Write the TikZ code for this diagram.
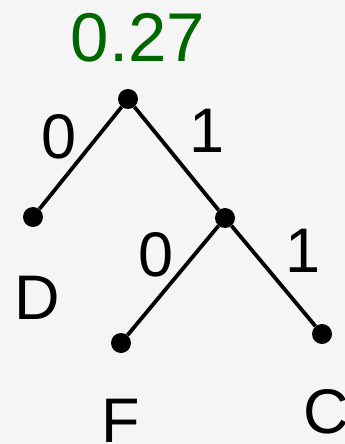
\documentclass[tikz,border=0pt]{standalone}
\usepackage{fontspec}
\setmainfont{Liberation Sans}
\definecolor{bg}{RGB}{245,245,245}
\definecolor{tgreen}{RGB}{0,102,0}
\begin{document}
\begin{tikzpicture}[x=1pt,y=-1pt,
  dot/.style={circle,fill=black,inner sep=0pt,minimum size=20pt},
  edge/.style={line width=3.8pt},
  lbl/.style={inner sep=0pt,anchor=base,font=\fontsize{63}{63}\selectfont},
  prob/.style={inner sep=0pt,anchor=base,text=tgreen,font=\fontsize{69}{69}\selectfont}]
\fill[bg] (0,0) rectangle (345,444);
\useasboundingbox (0,0) rectangle (345,444);
\node[dot] (r) at (128,99) {};
\node[dot] (d) at (33,217) {};
\node[dot] (i) at (225,218) {};
\node[dot] (f) at (121,343) {};
\node[dot] (c) at (322,334) {};
\draw[edge] (r) -- (d);
\draw[edge] (r) -- (i);
\draw[edge] (i) -- (f);
\draw[edge] (i) -- (c);
\node[prob] (p) at (138,62) {0.27};
\node[lbl] (l0a) at (59,158) {0};
\node[lbl] (l1a) at (207,152) {1};
\node[lbl] (l0b) at (156,276) {0};
\node[lbl] (l1b) at (303,272) {1};
\node[lbl] (nd) at (37,319) {D};
\node[lbl] (nf) at (121,442) {F};
\node[lbl] (nc) at (326,433) {C};
\end{tikzpicture}
\end{document}
